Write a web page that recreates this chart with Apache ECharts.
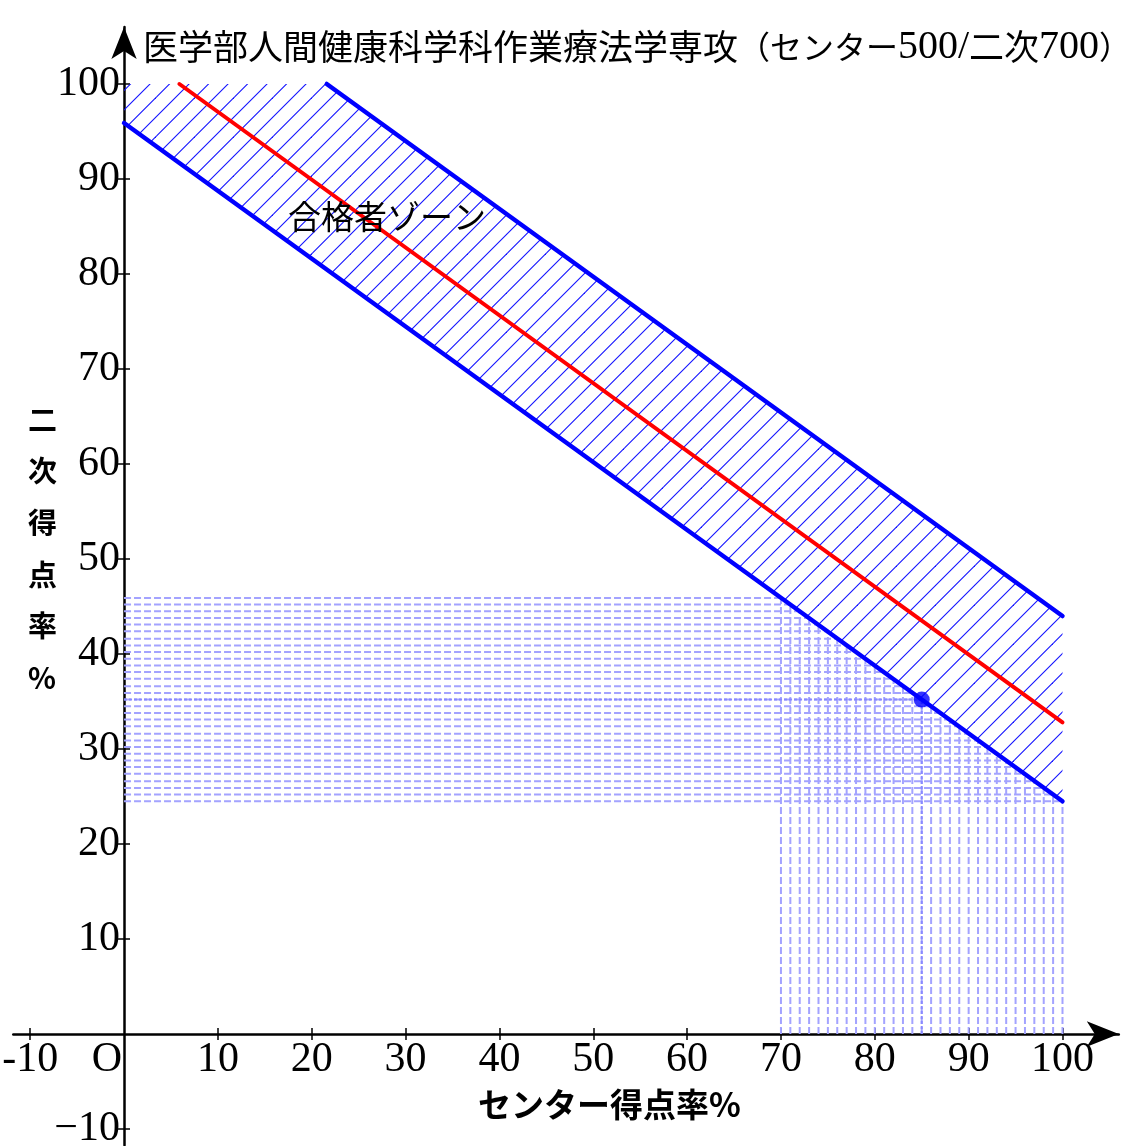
<!DOCTYPE html>
<html>
<head>
<meta charset="utf-8">
<script src="https://cdn.jsdelivr.net/npm/echarts@6/dist/echarts.min.js"></script>
<style>
html,body{margin:0;padding:0;background:#fff;}
#c{width:1136px;height:1146px;}
</style>
</head>
<body>
<div id="c"></div>
<script>
// ---- data ----
const titleKanji = '医学部人間健康科学科作業療法学専攻';
const titleKana = '（センター';
const titleNum1 = '500/';
const titleCJK2 = '二次';
const titleNum2 = '700';
const titleClose = '）';
const zoneLabel = '合格者ゾーン';
const xAxisName = 'センター得点率%';
const yAxisName = '二次得点率%';

const xTickValues = [-10, 10, 20, 30, 40, 50, 60, 70, 80, 90, 100];
const xLabelValues = [-10, 0, 10, 20, 30, 40, 50, 60, 70, 80, 90, 100];
const yTickValues = [-10, 10, 20, 30, 40, 50, 60, 70, 80, 90, 100];

const lowerLine = [[0, 95.9], [100, 24.5]];
const passLine = [[5.9, 100], [100, 32.8]];
const upperLine = [[21.6, 100], [100, 44.0]];
const zoneCorner = [0, 100];
const myPoint = [85, 35.2];

const dropX = [70, 71, 72, 73, 74, 75, 76, 77, 78, 79, 80, 81, 82, 83, 84, 85,
               86, 87, 88, 89, 90, 91, 92, 93, 94, 95, 96, 97, 98, 99, 100];
const dropY = [45.9, 45.2, 44.5, 43.8, 43.1, 42.4, 41.6, 40.9, 40.2, 39.5, 38.8, 38.1, 37.4, 36.6, 35.9, 35.2,
               34.5, 33.8, 33.1, 32.4, 31.6, 30.9, 30.2, 29.5, 28.8, 28.1, 27.4, 26.6, 25.9, 25.2, 24.5];

// ---- layout / styles ----
const W = 1136, H = 1146;
const X_MIN = -11.8, X_MAX = 106, Y_MIN = -11.7, Y_MAX = 106;
const G_LEFT = 13.3, G_RIGHT = 17.2, G_TOP = 27, G_BOTTOM = 0.85;
const gW = W - G_LEFT - G_RIGHT, gH = H - G_TOP - G_BOTTOM;
const yAxisOffset = -((0 - X_MIN) / (X_MAX - X_MIN)) * gW;
const xAxisOffset = -((0 - Y_MIN) / (Y_MAX - Y_MIN)) * gH;

const SERIF = '"Liberation Serif","Times New Roman",serif';
const CJK = '"Noto Sans CJK JP","Noto Sans",sans-serif';

// hatch pattern
const T = 39;
const pc = document.createElement('canvas');
pc.width = T; pc.height = T;
const pctx = pc.getContext('2d');
pctx.strokeStyle = '#1010ff';
pctx.lineWidth = 1.1;
for (let k = 0; k <= 4; k++) {
  const c = k * T / 2;
  pctx.beginPath();
  pctx.moveTo(c + 2, -2);
  pctx.lineTo(c - T - 2, T + 2);
  pctx.stroke();
}

const bandPoly = [lowerLine[0], zoneCorner, upperLine[0], upperLine[1], lowerLine[1]];
const dropData = dropX.map((x, i) => [x, dropY[i]]);

const chart = echarts.init(document.getElementById('c'), null, {renderer: 'canvas'});

const tickStyle = {color: '#000', width: 1.5};

function dropRender(color, dash) {
  return function (params, api) {
    const x = api.value(0), y = api.value(1);
    const p = api.coord([x, y]);
    const px0 = api.coord([0, y]);
    const py0 = api.coord([x, 0]);
    const st = {stroke: color, lineWidth: 2, lineDash: dash, fill: null};
    return {
      type: 'group',
      children: [
        {type: 'line', shape: {x1: px0[0], y1: px0[1], x2: p[0], y2: p[1]}, style: st},
        {type: 'line', shape: {x1: py0[0], y1: py0[1], x2: p[0], y2: p[1]}, style: st}
      ]
    };
  };
}

const option = {
  animation: false,
  backgroundColor: '#ffffff',
  grid: {left: G_LEFT, right: G_RIGHT, top: G_TOP, bottom: G_BOTTOM, containLabel: false, outerBoundsMode: 'none'},
  xAxis: [
    {
      type: 'value', min: X_MIN, max: X_MAX, position: 'bottom', offset: xAxisOffset,
      splitLine: {show: false},
      axisLine: {show: true, onZero: false, symbol: ['none', 'arrow'], symbolSize: [19, 32],
                 lineStyle: {color: '#000', width: 2.5}},
      axisTick: {show: true, inside: false, length: 6, customValues: xTickValues, lineStyle: tickStyle},
      axisLabel: {show: true, customValues: xLabelValues, margin: 5, color: '#000',
                  fontFamily: SERIF, fontSize: 42,
                  formatter: function (v) { return v === 0 ? '{o|O}' : (v < 0 ? '-' + Math.abs(v) : String(v)); },
                  rich: {o: {fontFamily: SERIF, fontSize: 42, color: '#000', padding: [0, 34, 0, 0]}}}
    },
    {
      type: 'value', min: X_MIN, max: X_MAX, position: 'bottom', offset: xAxisOffset,
      splitLine: {show: false},
      axisLine: {show: false, onZero: false},
      axisTick: {show: true, inside: true, length: 6, customValues: xTickValues, lineStyle: tickStyle},
      axisLabel: {show: false}
    }
  ],
  yAxis: [
    {
      type: 'value', min: Y_MIN, max: Y_MAX, position: 'left', offset: yAxisOffset,
      splitLine: {show: false},
      axisLine: {show: true, onZero: false, symbol: ['none', 'arrow'], symbolSize: [19, 32],
                 lineStyle: {color: '#000', width: 2.5}},
      axisTick: {show: true, inside: false, length: 6, customValues: yTickValues, lineStyle: tickStyle},
      axisLabel: {show: true, customValues: yTickValues, margin: 4, color: '#000',
                  fontFamily: SERIF, fontSize: 42,
                  formatter: function (v) { return v < 0 ? '\u2212' + Math.abs(v) : String(v); }}
    },
    {
      type: 'value', min: Y_MIN, max: Y_MAX, position: 'left', offset: yAxisOffset,
      splitLine: {show: false},
      axisLine: {show: false, onZero: false},
      axisTick: {show: true, inside: true, length: 6, customValues: yTickValues, lineStyle: tickStyle},
      axisLabel: {show: false}
    }
  ],
  series: [
    {
      type: 'custom', name: 'zone', xAxisIndex: 0, yAxisIndex: 0, z: 1,
      data: [bandPoly[0]],
      renderItem: function (params, api) {
        const pts = bandPoly.map(p => api.coord(p));
        return {type: 'polygon', shape: {points: pts},
                style: {fill: {image: pc, repeat: 'repeat'}, stroke: null}};
      },
      silent: true
    },
    {
      type: 'custom', name: 'drops', xAxisIndex: 0, yAxisIndex: 0, z: 2,
      data: dropData,
      renderItem: dropRender('#a3a3ff', [7, 3]),
      silent: true
    },
    {
      type: 'custom', name: 'mydrop', xAxisIndex: 0, yAxisIndex: 0, z: 3,
      data: [myPoint],
      renderItem: dropRender('#8a8aff', [3, 2]),
      silent: true
    },
    {
      type: 'line', name: 'lower', data: lowerLine, symbol: 'none', z: 5,
      lineStyle: {color: '#0000ff', width: 4.5, cap: 'round'}
    },
    {
      type: 'line', name: 'upper', data: upperLine, symbol: 'none', z: 5,
      lineStyle: {color: '#0000ff', width: 4.5, cap: 'round'}
    },
    {
      type: 'line', name: 'pass', data: passLine, symbol: 'none', z: 6,
      lineStyle: {color: '#ff0000', width: 4, cap: 'round'}
    },
    {
      type: 'scatter', name: 'me', data: [myPoint], symbol: 'circle', symbolSize: 16, z: 7,
      itemStyle: {color: '#0000ff'}
    }
  ],
  graphic: [
    {
      type: 'text', left: 143, top: 27, z: 100,
      style: {
        text: '{a|' + titleKanji + '}{k|' + titleKana + '}{b|' + titleNum1 + '}{a|' + titleCJK2 + '}{b|' + titleNum2 + '}{k|' + titleClose + '}',
        rich: {
          a: {fontFamily: CJK, fontSize: 35, fill: '#000', verticalAlign: 'middle'},
          k: {fontFamily: CJK, fontSize: 32, fill: '#000', verticalAlign: 'middle'},
          b: {fontFamily: SERIF, fontSize: 40, fill: '#000', verticalAlign: 'middle'}
        }
      }
    },
    {
      type: 'text', left: 288, top: 200, z: 100,
      style: {text: zoneLabel, fontFamily: CJK, fontSize: 33, fill: '#000'}
    },
    {
      type: 'text', left: 478, top: 1088, z: 100,
      style: {text: xAxisName, fontFamily: CJK, fontSize: 33, fontWeight: 'bold', fill: '#000'}
    },
    {
      type: 'text', left: 28, top: 394, z: 100,
      style: {text: yAxisName.split('').join('\n'), fontFamily: CJK, fontSize: 29, fontWeight: 'bold', lineHeight: 51.6,
              fill: '#000', align: 'center'}
    }
  ]
};
chart.setOption(option);
</script>
</body>
</html>
